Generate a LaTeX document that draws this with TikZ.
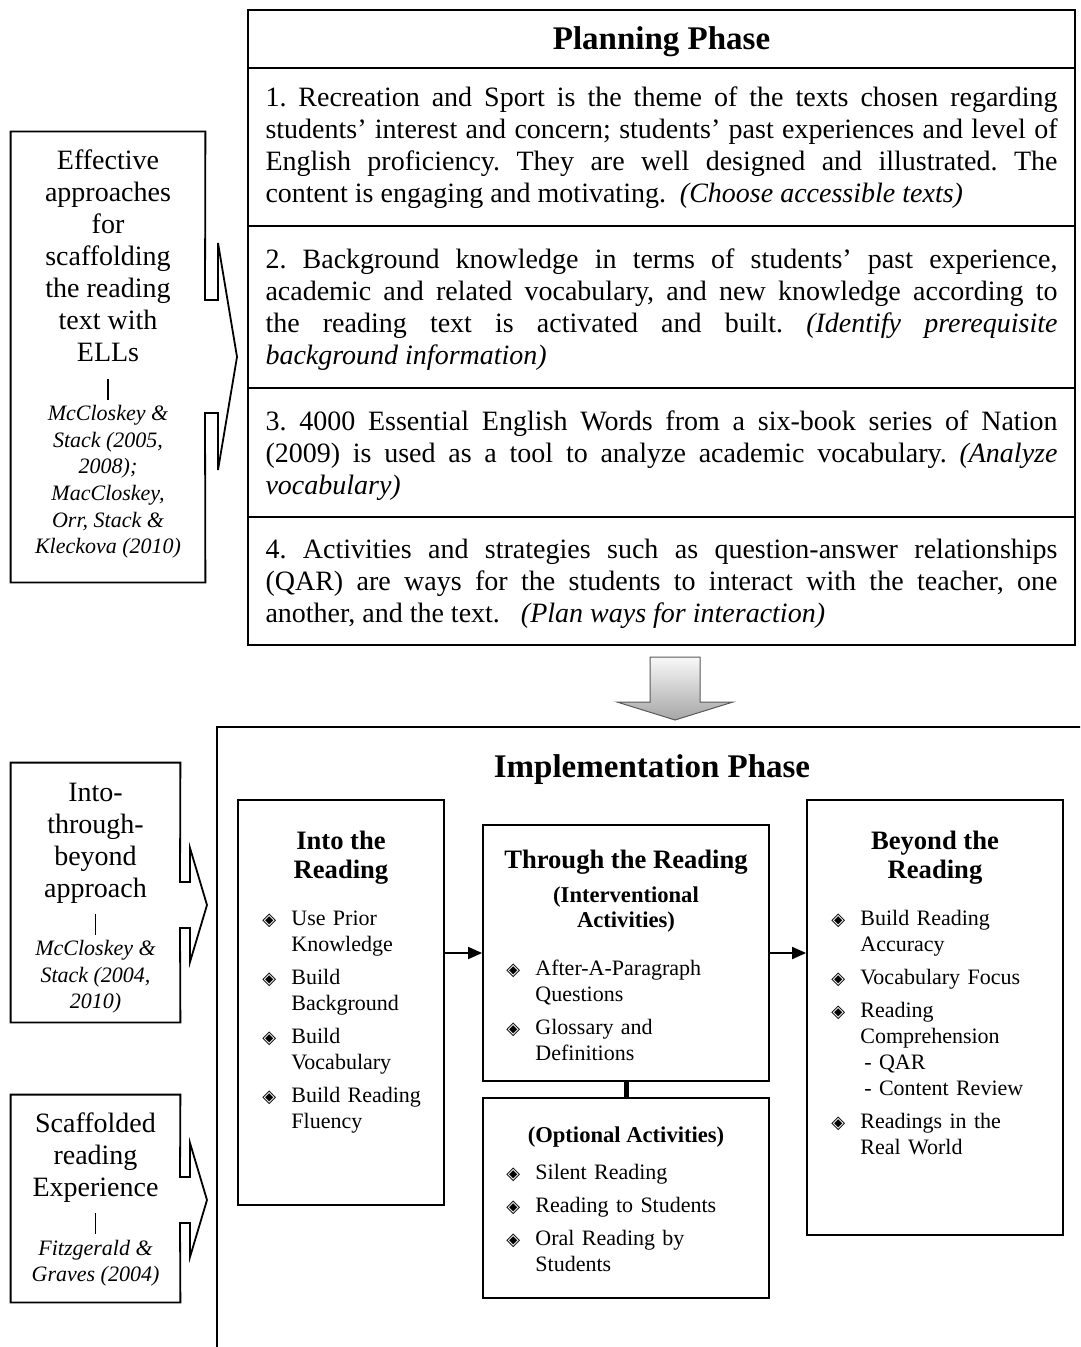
\documentclass[tikz,border=0pt]{standalone}
\usepackage{fontspec}
\setmainfont{Liberation Serif}
\newfontfamily\symfont{DejaVu Sans}
\usetikzlibrary{fit,arrows.meta,calc}
\frenchspacing

% type sizes
\newcommand\fBody{\fontsize{14}{16}\selectfont}
\newcommand\fHead{\fontsize{16.5}{19}\selectfont\bfseries}
\newcommand\fRef{\fontsize{11}{13.3}\selectfont\itshape}
\newcommand\fTitle{\fontsize{13.3}{14.5}\selectfont\bfseries}
\newcommand\fSub{\fontsize{11.3}{12.5}\selectfont\bfseries}
\newcommand\fList{\fontsize{11}{13}\selectfont\setlength\parskip{3.5pt}}
% justified paragraph for the planning rows
\newcommand\jpar[1]{\parbox{396pt}{\fBody\setlength\parindent{0pt}#1}}
% diamond bullet and list item with hanging indent
\newcommand\dm{{\symfont\fontsize{9}{9}\selectfont ◈}}
\newcommand\itm[1]{\par\hangindent=14.5pt\hangafter=1\noindent\makebox[14.5pt][l]{\dm}#1\par}

\begin{document}
\begin{tikzpicture}[x=0.5pt,y=-0.5pt,
  cell/.style={draw=black,line width=0.9pt,inner sep=0pt},
  ghost/.style={inner sep=0pt},
  bigtxt/.style={align=center,font=\fBody,inner sep=0pt},
  reftxt/.style={align=center,font=\fRef,inner sep=0pt},
  outline/.style={draw=black,line width=0.9pt,line join=miter},
  bar/.style={draw=black,line width=0.9pt},
  title/.style={align=center,font=\fTitle,inner sep=0pt},
  subtitle/.style={align=center,font=\fSub,inner sep=0pt},
  list/.style={align=left,font=\fList,inner sep=0pt,anchor=north west},
  link/.style={draw=black,line width=0.9pt,-{Triangle[length=7pt,width=6pt]}},
]
\useasboundingbox (0,0) rectangle (1080,1347);

% ---------------- Planning phase table ----------------
\node[cell,fit={(248,10) (1075,68)}] (ph) {};
\node[font=\fHead,inner sep=0pt] (phtitle) at ($(ph.center)+(0,3)$) {Planning Phase};
\node[cell,fit={(248,68) (1075,226)}] (p1) {};
\node[inner sep=0pt] (p1t) at ($(p1.center)+(0,1)$) {\jpar{1. Recreation and Sport is the theme of the texts chosen regarding\linebreak students' interest and concern; students' past experiences and level of\linebreak English proficiency. They are well designed and illustrated. The\linebreak content is engaging and motivating.\ \ \textit{(Choose accessible texts)}}};
\node[cell,fit={(248,226) (1075,388)}] (p2) {};
\node[inner sep=0pt] (p2t) at ($(p2.center)+(0,3)$) {\jpar{2. Background knowledge in terms of students' past experience,\linebreak academic and related vocabulary, and new knowledge according to\linebreak the reading text is activated and built. \textit{(Identify prerequisite\linebreak background information)}}};
\node[cell,fit={(248,388) (1075,517)}] (p3) {};
\node[inner sep=0pt] (p3t) at ($(p3.center)+(0,3)$) {\jpar{3. 4000 Essential English Words from a six-book series of Nation\linebreak (2009) is used as a tool to analyze academic vocabulary. \textit{(Analyze\linebreak vocabulary)}}};
\node[cell,fit={(248,517) (1075,645)}] (p4) {};
\node[inner sep=0pt] (p4t) at ($(p4.center)+(0,3)$) {\jpar{4. Activities and strategies such as question-answer relationships\linebreak (QAR) are ways for the students to interact with the teacher, one\linebreak another, and the text.\ \ \ \textit{(Plan ways for interaction)}}};

% ---------------- Left call-out boxes ----------------
\node[ghost,fit={(11,132) (205,582)}] (b1) {};
\draw[outline] (b1.north west) -- (b1.north east) -- (205,300) -- (218,300) -- (218,243)
  -- (237,357) -- (218,470) -- (218,413) -- (205,413) -- (b1.south east) -- (b1.south west) -- cycle;
\node[bigtxt] (b1top) at (108,256) {Effective\\approaches\\for\\scaffolding\\the reading\\text with\\ELLs};
\node[reftxt] (b1ref) at (108,482) {McCloskey \&\\Stack (2005,\\2008);\\MacCloskey,\\Orr, Stack \&\\Kleckova (2010)};
\draw[bar] ($(b1top.south)+(0,17)$) -- ($(b1ref.north)+(0,-5)$);

\node[ghost,fit={(11,763) (180,1022)}] (b2) {};
\draw[outline] (b2.north west) -- (b2.north east) -- (180,882) -- (190,882) -- (190,848)
  -- (207,905) -- (190,962) -- (190,928) -- (180,928) -- (b2.south east) -- (b2.south west) -- cycle;
\node[bigtxt] (b2top) at (95.5,843) {Into-\\through-\\beyond\\approach};
\node[reftxt] (b2ref) at (95.5,977) {McCloskey \&\\Stack (2004,\\2010)};
\draw[bar] ($(b2top.south)+(0,10)$) -- ($(b2ref.north)+(0,-5)$);

\node[ghost,fit={(11,1095) (180,1302)}] (b3) {};
\draw[outline] (b3.north west) -- (b3.north east) -- (180,1177) -- (190,1177) -- (190,1143)
  -- (207,1200) -- (190,1257) -- (190,1223) -- (180,1223) -- (b3.south east) -- (b3.south west) -- cycle;
\node[bigtxt] (b3top) at (95.5,1158) {Scaffolded\\reading\\Experience};
\node[reftxt] (b3ref) at (95.5,1263) {Fitzgerald \&\\Graves (2004)};
\draw[bar] ($(b3top.south)+(0,10)$) -- ($(b3ref.north)+(0,-5)$);

% ---------------- Block arrow between phases ----------------
\shade[top color=gray!5,bottom color=gray!70,draw=gray!70!black,line width=0.5pt]
  (650,657) -- (700,657) -- (700,702) -- (733,702) -- (675,720) -- (617,702) -- (650,702) -- cycle;

% ---------------- Implementation phase frame ----------------
\begin{scope}
  \clip (0,0) rectangle (1080,1347);
  \node[cell,fit={(217,727) (1120,1400)}] (impl) {};
\end{scope}
\node[font=\fHead,inner sep=0pt] (impltitle) at (652,770) {Implementation Phase};

% Into the Reading
\node[cell,fit={(238,800) (444,1205)}] (into) {};
\node[title] (intot) at (341,857.5) {Into the\\Reading};
\node[list,text width=89pt] (intol) at (262,892) {%
  \itm{Use Prior\newline Knowledge}\itm{Build\newline Background}%
  \itm{Build\newline Vocabulary}\itm{Build Reading\newline Fluency}};

% Through the Reading
\node[cell,fit={(483,825) (769,1081)}] (thr) {};
\node[title] (thrt) at (626,862) {Through the Reading};
\node[subtitle] (thrs) at (626,909.5) {(Interventional\\Activities)};
\node[list,text width=128pt] (thrl) at (506,942) {%
  \itm{After-A-Paragraph\newline Questions}\itm{Glossary and\newline Definitions}};

% Optional activities
\node[cell,fit={(483,1098) (769,1298)}] (opt) {};
\node[subtitle] (optt) at (626,1137) {(Optional Activities)};
\node[list,text width=128pt] (optl) at (506,1146) {%
  \itm{Silent Reading}\itm{Reading to Students}\itm{Oral Reading by\newline Students}};

% Beyond the Reading
\node[cell,fit={(807,800) (1063,1235)}] (bey) {};
\node[title] (beyt) at (935,857.5) {Beyond the\\Reading};
\node[list,text width=113pt] (beyl) at (831,892) {%
  \itm{Build Reading\newline Accuracy}\itm{Vocabulary Focus}%
  \itm{Reading\newline Comprehension\newline\hspace*{2pt}- QAR\newline\hspace*{2pt}- Content Review}%
  \itm{Readings in the\newline Real World}};

% connectors
\draw[link] (into.east |- thr.west) -- (thr.west);
\draw[link] (thr.east) -- (bey.west |- thr.east);
\draw[draw=black,line width=2.5pt] (thr.south) -- (opt.north);

\end{tikzpicture}
\end{document}
